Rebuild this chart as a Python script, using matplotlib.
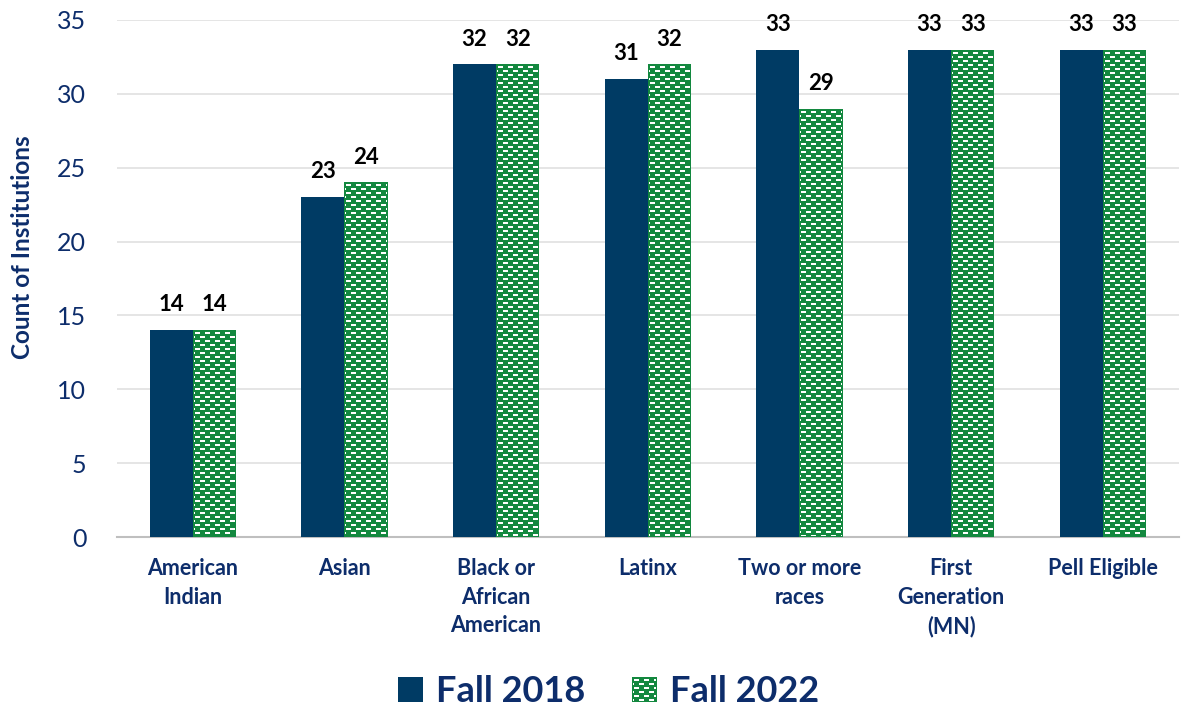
import matplotlib.pyplot as plt
import numpy as np
from matplotlib.patches import Patch
from matplotlib.colors import to_rgb

plt.rcParams['font.family'] = ['Lato', 'DejaVu Sans']

categories = ["American\nIndian", "Asian", "Black or\nAfrican\nAmerican", "Latinx",
              "Two or more\nraces", "First\nGeneration\n(MN)", "Pell Eligible"]
fall_2018 = [14, 23, 32, 31, 33, 33, 33]
fall_2022 = [14, 24, 32, 32, 29, 33, 33]

navy = "#003B64"
green = "#13883F"
text_navy = "#0D2D6B"


def brick_texture(w, h):
    # green field with staggered white dashes, 1px green border
    img = np.empty((h, w, 3))
    img[:] = to_rgb(green)
    rows, cols = np.mgrid[0:h, 0:w]
    band = (rows - 2) % 8
    top = (band < 2) & ((cols - 2) % 10 < 5)
    low = (band >= 4) & (band < 6) & ((cols + 3) % 10 < 5)
    img[top | low] = 1.0
    img[0, :] = img[-1, :] = img[:, 0] = img[:, -1] = to_rgb(green)
    return img


def overlay_texture(fig, bb, z=5):
    x0, y0 = int(round(bb.x0)), int(round(bb.y0))
    w, h = int(round(bb.x1)) - x0, int(round(bb.y1)) - y0
    if w > 2 and h > 2:
        fig.figimage(brick_texture(w, h), xo=x0, yo=y0, origin="upper", zorder=z)


fig = plt.figure(figsize=(11.81, 7.11), dpi=100)
ax = fig.add_axes([0.099, 0.2447, 0.899, 0.7272])

x = np.arange(len(categories))
w = 0.284

ax.bar(x - w / 2, fall_2018, w, color=navy, zorder=3)
green_bars = ax.bar(x + w / 2, fall_2022, w, color=green, linewidth=0, zorder=3)

for xi, v in zip(x - w / 2, fall_2018):
    ax.text(xi, v + 1.0, str(v), ha="center", va="bottom", fontsize=16,
            fontweight="bold", color="black")
for xi, v in zip(x + w / 2, fall_2022):
    ax.text(xi, v + 1.0, str(v), ha="center", va="bottom", fontsize=16,
            fontweight="bold", color="black")

ax.set_xlim(-0.5, len(categories) - 0.5)
ax.set_ylim(0, 35)
ax.set_yticks(range(0, 36, 5))
ax.yaxis.grid(True, color="#E3E3E3", linewidth=1.3, zorder=0)
ax.set_axisbelow(True)
for s in ["top", "right", "left"]:
    ax.spines[s].set_visible(False)
ax.spines["bottom"].set_color("#BFBFBF")
ax.spines["bottom"].set_linewidth(1.5)
ax.tick_params(axis="both", length=0)
ax.tick_params(axis="y", labelsize=18, labelcolor=text_navy, pad=22)
ax.set_xticks(x)
ax.set_xticklabels(categories, fontsize=15.5, fontweight="bold", color=text_navy,
                   linespacing=1.45, va="top")
ax.tick_params(axis="x", pad=15)
ax.set_ylabel("Count of Institutions", fontsize=17.5, fontweight="bold",
              color=text_navy)
ax.yaxis.set_label_coords(-0.078, 0.56)

handles = [Patch(facecolor=navy, label="Fall 2018"),
           Patch(facecolor=green, label="Fall 2022")]
leg = fig.legend(handles=handles, loc="center", bbox_to_anchor=(0.515, 0.027),
                 ncol=2, frameon=False, prop={"size": 26, "weight": "bold"},
                 labelcolor=text_navy, handlelength=0.7, handleheight=0.7,
                 handletextpad=0.35, columnspacing=1.3)

fig.canvas.draw()
for bar in green_bars:
    overlay_texture(fig, bar.get_window_extent())
renderer = fig.canvas.get_renderer()
overlay_texture(fig, leg.get_patches()[1].get_window_extent(renderer), z=10)

fig.savefig("out.png", dpi=100)
